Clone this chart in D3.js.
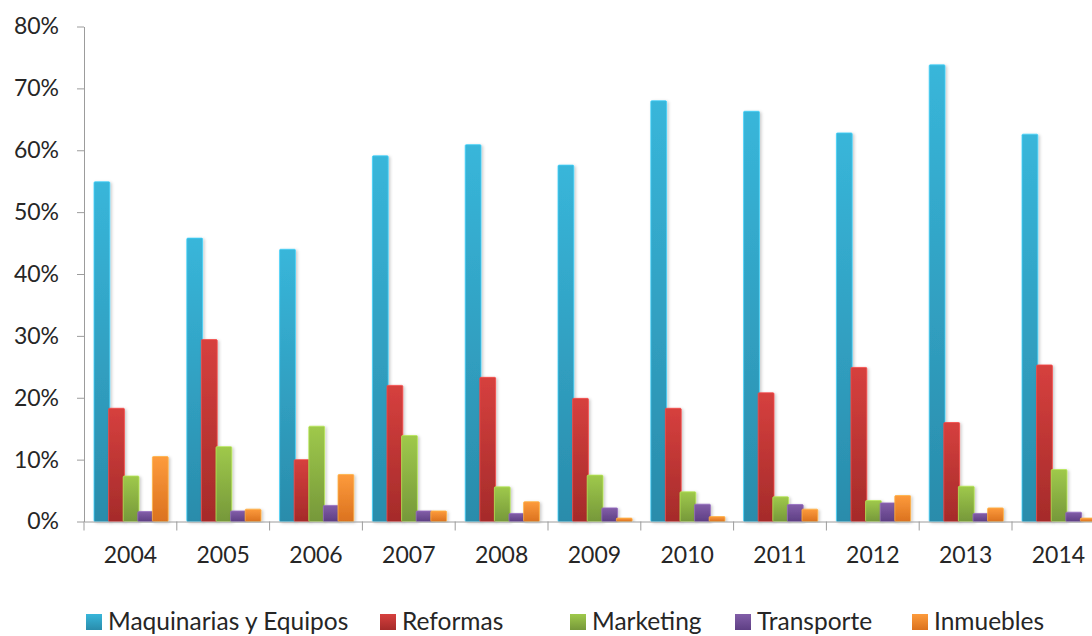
<!DOCTYPE html>
<html>
<head>
<meta charset="utf-8">
<script src="https://cdn.jsdelivr.net/npm/d3@7"></script>
<style>
  body { margin: 0; background: #fff; }
  svg { display: block; font-family: Lato, "Open Sans", sans-serif; }
</style>
</head>
<body>
<svg width="1092" height="636"></svg>
<script>
const years = ['2004', '2005', '2006', '2007', '2008', '2009', '2010', '2011', '2012', '2013', '2014'];
const series = ['Maquinarias y Equipos', 'Reformas', 'Marketing', 'Transporte', 'Inmuebles'];

// valores en %
const maquinarias = [54.9, 45.8, 44.0, 59.1, 60.9, 57.6, 68.0, 66.3, 62.8, 73.8, 62.6];
const reformas    = [18.3, 29.4, 10.0, 22.0, 23.3, 19.9, 18.3, 20.8, 24.9, 16.0, 25.3];
const marketing   = [7.35, 12.1, 15.4, 13.9, 5.6, 7.5, 4.8, 4.0, 3.4, 5.7, 8.4];
const transporte  = [1.6, 1.7, 2.6, 1.7, 1.3, 2.2, 2.8, 2.75, 3.0, 1.3, 1.5];
const inmuebles   = [10.5, 2.0, 7.6, 1.7, 3.2, 0.55, 0.8, 2.0, 4.2, 2.2, 0.55];

const yTicks = [0, 10, 20, 30, 40, 50, 60, 70, 80];

const values = [maquinarias, reformas, marketing, transporte, inmuebles];
const colors = [
    ['#38b6da', '#2a8cab'],
    ['#d6403e', '#a52b2a'],
    ['#9fc94b', '#76983a'],
    ['#825ea8', '#5e3f84'],
    ['#fd9b3c', '#db721f'],
];

const svg = d3.select('svg');
const defs = svg.append('defs');

colors.forEach((c, i) => {
    const g = defs.append('linearGradient')
        .attr('id', 'grad' + i)
        .attr('x1', 0).attr('y1', 0).attr('x2', 0).attr('y2', 1);
    g.append('stop').attr('offset', '0%').attr('stop-color', c[0]);
    g.append('stop').attr('offset', '100%').attr('stop-color', c[1]);
});

const shadow = defs.append('filter').attr('id', 'shadow')
    .attr('x', '-30%').attr('y', '-10%').attr('width', '160%').attr('height', '120%');
shadow.append('feDropShadow')
    .attr('dx', 1.5).attr('dy', 1).attr('stdDeviation', 1.5)
    .attr('flood-color', '#000').attr('flood-opacity', 0.22);

const left = 84;
const bandW = 92.8;
const x0 = d3.scaleBand().domain(years).range([left, left + years.length * bandW]).padding(0);
const x1 = d3.scaleBand().domain(series).range([10, 10 + 5 * 14.6]).padding(0);
const y = d3.scaleLinear().domain([0, 80]).range([521.5, 26.5]);

// eje Y
const yAxis = svg.append('g')
    .attr('transform', `translate(${left},0)`)
    .call(d3.axisLeft(y).tickValues(yTicks).tickFormat((d) => d + '%').tickSize(7).tickPadding(18).tickSizeOuter(0));
yAxis.select('.domain').attr('stroke', '#9c9c9c');
yAxis.selectAll('.tick line').attr('stroke', '#9c9c9c');
yAxis.selectAll('.tick text')
    .attr('fill', '#262626')
    .style('font-size', '23px')
    .style('font-family', 'Lato, sans-serif');

// barras
const groups = svg.append('g').selectAll('g')
    .data(years)
    .join('g')
    .attr('transform', (d) => `translate(${x0(d)},0)`);

groups.selectAll('rect')
    .data((d, i) => series.map((s, k) => ({ s, k, v: values[k][i] })))
    .join('rect')
    .attr('x', (d) => x1(d.s))
    .attr('y', (d) => y(d.v))
    .attr('width', x1.bandwidth() + 1.2)
    .attr('height', (d) => y(0) - y(d.v))
    .attr('rx', 1)
    .attr('fill', (d) => `url(#grad${d.k})`)
    .attr('stroke', (d) => d3.color(colors[d.k][0]).brighter(0.4))
    .attr('stroke-width', 0.8)
    .attr('filter', 'url(#shadow)');

// eje X
const xAxis = svg.append('g')
    .attr('transform', `translate(0,${y(0)})`)
    .call(d3.axisBottom(x0).tickSize(0).tickPadding(25).tickSizeOuter(0));
xAxis.select('.domain').attr('stroke', '#9c9c9c');
xAxis.selectAll('.tick text')
    .attr('fill', '#262626')
    .style('font-size', '23px')
    .style('font-family', 'Lato, sans-serif');

svg.append('g').selectAll('line')
    .data(years)
    .join('line')
    .attr('x1', (d) => x0(d))
    .attr('x2', (d) => x0(d))
    .attr('y1', y(0))
    .attr('y2', y(0) + 9)
    .attr('stroke', '#9c9c9c');

// leyenda
const legendX = [86, 380, 570, 735, 912];
const legend = svg.append('g').selectAll('g')
    .data(series)
    .join('g')
    .attr('transform', (d, i) => `translate(${legendX[i]},614)`);
legend.append('rect')
    .attr('width', 16).attr('height', 16)
    .attr('fill', (d, i) => `url(#grad${i})`);
legend.append('text')
    .attr('x', 22)
    .attr('y', 16)
    .attr('fill', '#262626')
    .style('font-size', '24.5px')
    .text((d) => d);
</script>
</body>
</html>
